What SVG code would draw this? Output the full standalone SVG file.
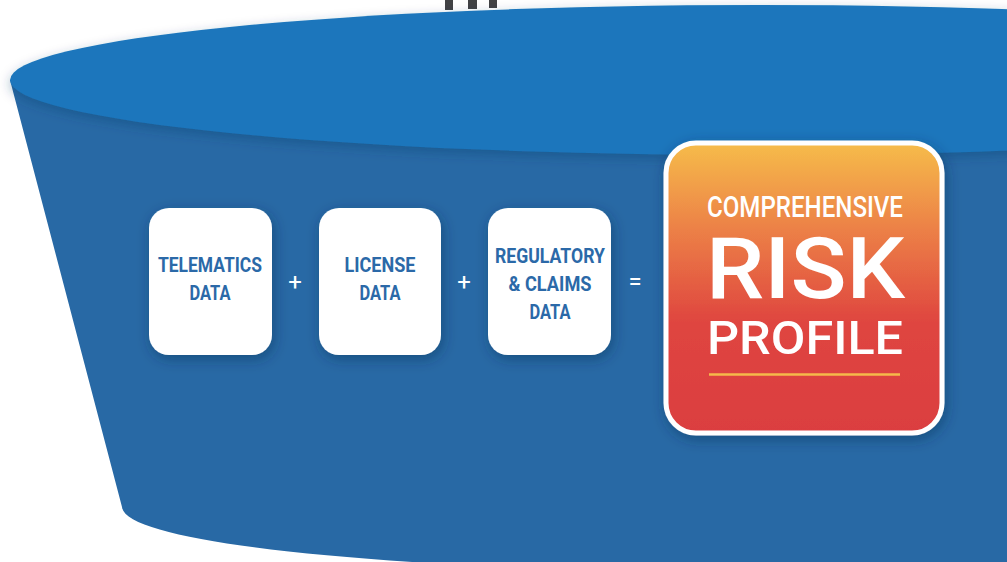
<svg xmlns="http://www.w3.org/2000/svg" width="1007" height="562" viewBox="0 0 1007 562">
<defs>
<style>
.card{fill:#ffffff}
.ct{font-family:Roboto,"Liberation Sans",sans-serif;font-weight:700;font-size:21px;fill:#2B69A8;text-anchor:middle}
.op{font-family:Roboto,"Liberation Sans",sans-serif;font-size:24px;fill:#ffffff;text-anchor:middle}
.rt{font-family:Roboto,"DejaVu Sans",sans-serif;fill:#ffffff;font-weight:500}
</style>
<linearGradient id="rg" x1="0" y1="0" x2="0" y2="1">
<stop offset="0" stop-color="#F6BC4B"/>
<stop offset="0.3" stop-color="#EC8046"/>
<stop offset="0.62" stop-color="#DF4540"/>
<stop offset="1" stop-color="#DB3E40"/>
</linearGradient>
<filter id="sh" x="-30%" y="-30%" width="160%" height="160%">
<feDropShadow dx="2" dy="4" stdDeviation="7" flood-color="#0A2A50" flood-opacity="0.45"/>
</filter>
<filter id="esh" x="-10%" y="-30%" width="120%" height="160%">
<feDropShadow dx="0" dy="4" stdDeviation="6" flood-color="#103A66" flood-opacity="0.35"/>
</filter>
</defs>
<rect width="1007" height="562" fill="#ffffff"/>
<g id="bars" fill="#414244">
<rect x="445" y="0" width="8" height="10"/>
<rect x="468" y="0" width="9" height="9"/>
<rect x="489" y="0" width="8" height="8"/>
</g>
<g id="funnel">
<path d="M10,80 L122,507 C125,545 407,572 760,572 L1120,572 L1120,80 Z" fill="#2869A5"/>
<ellipse cx="760" cy="80" rx="750" ry="75" fill="#1B76BC" filter="url(#esh)"/>
</g>
<g id="telematics">
<rect class="card" x="149" y="208" width="123" height="147" rx="20" filter="url(#sh)"/>
<text class="ct" x="210" y="272" textLength="104" lengthAdjust="spacingAndGlyphs">TELEMATICS</text>
<text class="ct" x="210" y="300" textLength="41" lengthAdjust="spacingAndGlyphs">DATA</text>
</g>
<g id="license">
<rect class="card" x="319" y="208" width="122" height="147" rx="20" filter="url(#sh)"/>
<text class="ct" x="380" y="272" textLength="71" lengthAdjust="spacingAndGlyphs">LICENSE</text>
<text class="ct" x="380" y="300" textLength="41" lengthAdjust="spacingAndGlyphs">DATA</text>
</g>
<g id="regulatory">
<rect class="card" x="488" y="208" width="123" height="147" rx="20" filter="url(#sh)"/>
<text class="ct" x="550" y="263" textLength="110" lengthAdjust="spacingAndGlyphs">REGULATORY</text>
<text class="ct" x="550" y="291" textLength="83" lengthAdjust="spacingAndGlyphs">&amp; CLAIMS</text>
<text class="ct" x="550" y="319" textLength="41" lengthAdjust="spacingAndGlyphs">DATA</text>
</g>
<g id="connectors">
<text class="op" x="295" y="290">+</text>
<text class="op" x="464" y="290">+</text>
<text class="op" x="635" y="290">=</text>
</g>
<g id="risk-profile">
<rect x="666" y="143" width="276" height="290" rx="30" fill="url(#rg)" stroke="#ffffff" stroke-width="5" filter="url(#sh)"/>
<text class="rt" x="707" y="217" font-size="30" textLength="196" lengthAdjust="spacingAndGlyphs">COMPREHENSIVE</text>
<text class="rt" x="706" y="298" font-size="86" textLength="199" lengthAdjust="spacingAndGlyphs">RISK</text>
<text class="rt" x="707" y="354" font-size="46" textLength="196" lengthAdjust="spacingAndGlyphs">PROFILE</text>
<line x1="709" y1="374.5" x2="900" y2="374.5" stroke="#F5B94A" stroke-width="2.5"/>
</g>
</svg>
